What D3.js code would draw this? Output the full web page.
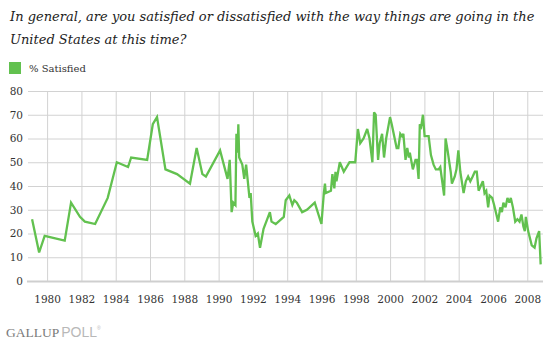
<!DOCTYPE html>
<html>
<head>
<meta charset="utf-8">
<script src="https://cdn.jsdelivr.net/npm/d3@7"></script>
<style>
  body { margin: 0; background: #fff; }
  svg { display: block; }
</style>
</head>
<body>
<div id="chart"></div>
<script>
const width = 554;
const height = 343;

// Poll dates and % satisfied
const pollDates = [
  "1979-02-15", "1979-07-15", "1979-11-10", "1981-01-10", "1981-05-25", "1981-12-01",
  "1982-03-15", "1982-10-20", "1983-07-15", "1984-01-25", "1984-09-20", "1984-11-25",
  "1985-11-01", "1986-03-01", "1986-05-30", "1986-11-25", "1987-07-30", "1988-05-01",
  "1988-09-20", "1989-01-20", "1989-04-05", "1990-02-01", "1990-07-10", "1990-08-25",
  "1990-10-05", "1990-11-10", "1990-12-25", "1991-01-15", "1991-02-10", "1991-02-25",
  "1991-03-15", "1991-05-20", "1991-07-01", "1991-08-10", "1991-10-20", "1991-11-15",
  "1991-12-20", "1992-02-28", "1992-04-15", "1992-06-01", "1992-08-15", "1992-12-28",
  "1993-02-01", "1993-05-01", "1993-10-20", "1993-11-30", "1994-02-15", "1994-04-20",
  "1994-06-01", "1994-07-25", "1994-11-15", "1995-02-25", "1995-08-10", "1995-12-31",
  "1996-02-20", "1996-03-15", "1996-04-01", "1996-07-20", "1996-08-20", "1996-10-01",
  "1996-10-25", "1996-11-15", "1997-01-25", "1997-04-20", "1997-08-20", "1997-12-20",
  "1998-02-15", "1998-04-05", "1998-06-15", "1998-09-01", "1998-10-20", "1998-12-20",
  "1999-01-25", "1999-02-28", "1999-04-20", "1999-05-25", "1999-07-15", "1999-08-25",
  "1999-10-10", "1999-12-31", "2000-02-05", "2000-05-20", "2000-06-25", "2000-08-05",
  "2000-09-10", "2000-10-10", "2000-11-25", "2001-01-01", "2001-02-05", "2001-02-25",
  "2001-04-30", "2001-06-25", "2001-07-25", "2001-08-30", "2001-09-25", "2001-10-25",
  "2001-12-01", "2002-01-05", "2002-04-01", "2002-05-20", "2002-07-15", "2002-09-01",
  "2002-10-30", "2002-12-05", "2003-02-25", "2003-03-28", "2003-05-10", "2003-06-15",
  "2003-07-15", "2003-08-10", "2003-10-10", "2003-11-15", "2003-12-25", "2004-02-05",
  "2004-03-15", "2004-04-15", "2004-06-01", "2004-07-20", "2004-09-05", "2004-10-25",
  "2004-12-10", "2005-01-20", "2005-03-01", "2005-04-15", "2005-05-30", "2005-07-05",
  "2005-08-10", "2005-09-20", "2005-10-20", "2005-12-15", "2006-01-25", "2006-04-20",
  "2006-06-05", "2006-07-10", "2006-08-10", "2006-09-25", "2006-11-05", "2006-12-15",
  "2007-01-15", "2007-03-01", "2007-04-20", "2007-06-05", "2007-07-20", "2007-08-30",
  "2007-10-10", "2007-11-10", "2007-12-01", "2008-01-20", "2008-04-05", "2008-06-05",
  "2008-07-15", "2008-09-10", "2008-10-12"
];
const satisfied = [
  26, 12, 19, 17, 33, 27,
  25, 24, 35, 50, 48, 52,
  51, 66, 69, 47, 45, 41,
  56, 45, 44, 55, 43, 51,
  29, 33, 32, 62, 54, 66,
  52, 49, 43, 49, 35, 37,
  25, 19, 20, 14, 22, 29,
  25, 24, 27, 34, 36, 32,
  34, 33, 29, 30, 33, 24,
  37, 41, 37, 38, 45, 39,
  46, 42, 50, 46, 50, 50,
  64, 58, 60, 64, 60, 50,
  71, 70, 51, 58, 62, 52,
  60, 69, 66, 56, 56, 62,
  61, 62, 51, 56, 52, 54,
  47, 51, 51, 43, 66, 65,
  70, 61, 61, 53, 49, 47,
  47, 48, 36, 60, 55, 50,
  46, 41, 44, 47, 55, 46,
  41, 37, 42, 44, 42, 44,
  46, 46, 38, 40, 42, 37,
  38, 31, 36, 35, 32, 25,
  31, 29, 33, 31, 35, 33,
  35, 31, 25, 26, 25, 28,
  23, 21, 27, 21, 15, 14,
  18, 21, 7
];
const yTicks = [0, 10, 20, 30, 40, 50, 60, 70, 80];
const xTickYears = d3.range(1980, 2009, 2);

const titleLines = [
  "In general, are you satisfied or dissatisfied with the way things are going in the",
  "United States at this time?"
];
const seriesName = "% Satisfied";
const lineColor = "#62c14f";
const serif = "'DejaVu Serif', Georgia, serif";

const parseDate = d3.timeParse("%Y-%m-%d");
const data = pollDates.map((d, i) => ({ date: parseDate(d), value: satisfied[i] }));

const plot = { left: 28, right: 543, top: 91, bottom: 281 };

const svg = d3.select("#chart")
  .append("svg")
  .attr("width", width)
  .attr("height", height);

const x = d3.scaleTime()
  .domain([new Date(1978, 10, 20), new Date(2008, 11, 1)])
  .range([plot.left, plot.right]);

const y = d3.scaleLinear()
  .domain([0, 80])
  .range([plot.bottom, plot.top]);

// title
svg.append("g")
  .selectAll("text")
  .data(titleLines)
  .enter()
  .append("text")
  .attr("x", 10)
  .attr("y", (d, i) => 20.5 + i * 23)
  .attr("font-family", serif)
  .attr("font-size", "13px")
  .attr("font-style", "italic")
  .attr("fill", "#222")
  .text(d => d);

// legend
svg.append("rect")
  .attr("x", 9)
  .attr("y", 62)
  .attr("width", 12)
  .attr("height", 12)
  .attr("fill", lineColor);
svg.append("text")
  .attr("x", 29)
  .attr("y", 71.5)
  .attr("font-family", serif)
  .attr("font-size", "10px")
  .attr("fill", "#333")
  .text(seriesName);

// horizontal grid + y labels
const yAxis = svg.append("g")
  .attr("transform", "translate(" + plot.left + ",0)")
  .attr("font-family", serif)
  .call(d3.axisLeft(y)
    .tickValues(yTicks)
    .tickSize(-(plot.right - plot.left))
    .tickPadding(5)
    .tickFormat(d3.format("d")));
yAxis.attr("font-family", serif).attr("font-size", "10.5px");
yAxis.select(".domain").remove();
yAxis.selectAll(".tick line").attr("stroke", "#d2d2d2");
yAxis.selectAll(".tick text").attr("fill", "#333");

// vertical grid + year labels
const xAxis = svg.append("g")
  .attr("transform", "translate(0," + plot.bottom + ")")
  .call(d3.axisBottom(x)
    .tickValues(xTickYears.map(yr => new Date(yr, 0, 1)))
    .tickSize(-(plot.bottom - plot.top))
    .tickPadding(15)
    .tickFormat(d3.timeFormat("%Y")));
xAxis.attr("font-family", serif).attr("font-size", "10.5px");
xAxis.select(".domain").remove();
xAxis.selectAll(".tick line").attr("stroke", "#d2d2d2");
xAxis.selectAll(".tick text").attr("fill", "#333");

// zero baseline
svg.append("line")
  .attr("x1", plot.left - 1)
  .attr("x2", plot.right)
  .attr("y1", y(0) + 0.5)
  .attr("y2", y(0) + 0.5)
  .attr("stroke", "#cfcfcf")
  .attr("stroke-width", 2);

// the series
const line = d3.line()
  .x(d => x(d.date))
  .y(d => y(d.value));

svg.append("path")
  .datum(data)
  .attr("d", line)
  .attr("fill", "none")
  .attr("stroke", lineColor)
  .attr("stroke-width", 2.3)
  .attr("stroke-linejoin", "miter")
  .attr("stroke-miterlimit", 3);

// footer logo
const logo = svg.append("text")
  .attr("x", 6)
  .attr("y", 336.5);
logo.append("tspan")
  .attr("font-family", "'Liberation Serif', 'Times New Roman', serif")
  .attr("font-size", "13.5px")
  .attr("fill", "#7a7a7a")
  .text("GALLUP");
logo.append("tspan")
  .attr("dx", 2)
  .attr("font-size", "14px")
  .attr("font-family", "'Liberation Sans', Arial, sans-serif")
  .attr("fill", "#b8b8b8")
  .text("POLL");
logo.append("tspan")
  .attr("dy", -7)
  .attr("font-size", "5px")
  .attr("font-family", "'Liberation Sans', Arial, sans-serif")
  .attr("fill", "#b8b8b8")
  .text("®");
</script>
</body>
</html>
